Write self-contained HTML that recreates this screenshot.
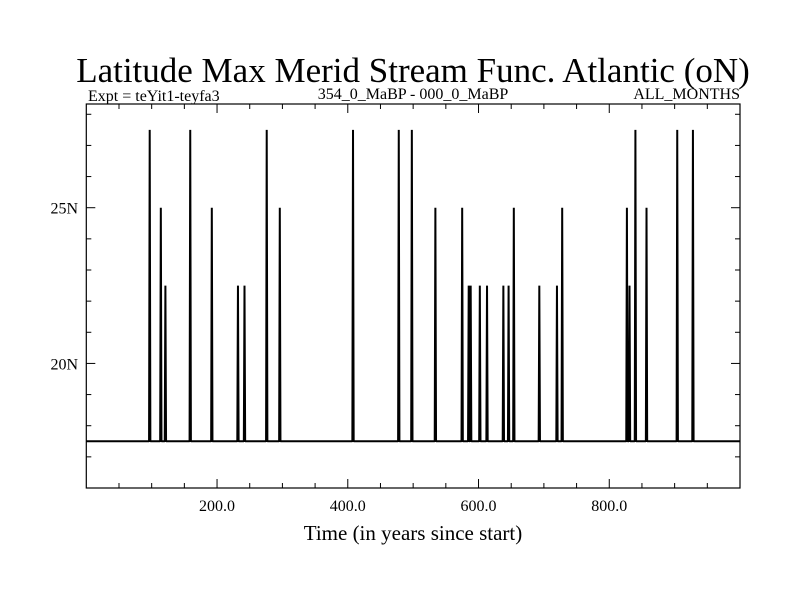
<!DOCTYPE html>
<html><head><meta charset="utf-8"><style>
body{margin:0;background:#fff}
svg{display:block}
text{font-family:"Liberation Serif",serif;fill:#000}
</style></head><body>
<svg id="chart" width="800" height="600">
<text x="413" y="82" font-size="35" text-anchor="middle">Latitude Max Merid Stream Func. Atlantic (oN)</text>
<text x="88" y="101" font-size="16">Expt = teYit1-teyfa3</text>
<text x="413" y="99" font-size="16" text-anchor="middle">354_0_MaBP - 000_0_MaBP</text>
<text x="740" y="99" font-size="16" text-anchor="end">ALL_MONTHS</text>
<text x="413" y="540" font-size="21" text-anchor="middle">Time (in years since start)</text>
<g id="axes"></g>
<g id="series"></g>
<rect x="86.3" y="104" width="653.7" height="384" fill="none" stroke="#000" stroke-width="1.2"/>
</svg>
<script>
const spikeYears=[97,114,121,159,192,232,242,276,296,408,478,498,534,575,585,588,602,613,638,646,654,693,720,728,827,831,840,857,904,928];
const spikeValues=[27.5,25,22.5,27.5,25,22.5,22.5,27.5,25,27.5,27.5,27.5,25,25,22.5,22.5,22.5,22.5,22.5,22.5,25,22.5,22.5,25,25,22.5,27.5,25,27.5,27.5];
const baseValue=17.5;
const xTicks=[200,400,600,800];
const xTickLabels=["200.0","400.0","600.0","800.0"];
const yTicks=[20,25];
const yTickLabels=["20N","25N"];
const X0=86.3,X1=740,Y0=104,Y1=488,xMin=0,xMax=1000,yMin=16,yMax=28.33;
const sx=v=>X0+(v-xMin)/(xMax-xMin)*(X1-X0);
const sy=v=>Y1-(v-yMin)/(yMax-yMin)*(Y1-Y0);
const NS="http://www.w3.org/2000/svg";
const axes=document.getElementById('axes');
function line(x1,y1,x2,y2,w,name,parent){
  const l=document.createElementNS(NS,'line');
  l.setAttribute('x1',x1);l.setAttribute('y1',y1);l.setAttribute('x2',x2);l.setAttribute('y2',y2);
  l.setAttribute('stroke','#000');l.setAttribute('stroke-width',w);
  
  
  parent.appendChild(l);return l;
}
function txt(x,y,s,anchor,name){
  const t=document.createElementNS(NS,'text');
  t.setAttribute('x',x);t.setAttribute('y',y);t.setAttribute('font-size','16');t.setAttribute('text-anchor',anchor);
  t.textContent=s;
  
  
  axes.appendChild(t);
}
for(let v=50;v<1000;v+=50){
  const maj=v%200===0, L=maj?9:5, x=sx(v);
  line(x,Y1,x,Y1-L,1,'x-tick',axes);
  line(x,Y0,x,Y0+L,1,'x-tick-top',axes);
}
for(let v=17;v<=28;v+=1){
  const maj=v%5===0, L=maj?9:5, y=sy(v);
  line(X0,y,X0+L,y,1,'y-tick',axes);
  line(X1,y,X1-L,y,1,'y-tick-right',axes);
}
xTicks.forEach((v,i)=>txt(sx(v),511,xTickLabels[i],'middle','x-tick-label'));
yTicks.forEach((v,i)=>txt(78,sy(v)+6,yTickLabels[i],'end','y-tick-label'));
const vals=[];
for(let y=0;y<=1000;y++)vals.push(baseValue);
spikeYears.forEach((yr,i)=>{vals[yr]=spikeValues[i];});
let pts=vals.map((v,i)=>sx(i).toFixed(2)+','+sy(v).toFixed(2)).join(' ');
const pl=document.createElementNS(NS,'polyline');
pl.setAttribute('points',pts);pl.setAttribute('fill','none');pl.setAttribute('stroke','#000');
pl.setAttribute('stroke-width','2');pl.setAttribute('stroke-linejoin','miter');pl.setAttribute('stroke-miterlimit','1');


document.getElementById('series').appendChild(pl);
</script>
</body></html>
